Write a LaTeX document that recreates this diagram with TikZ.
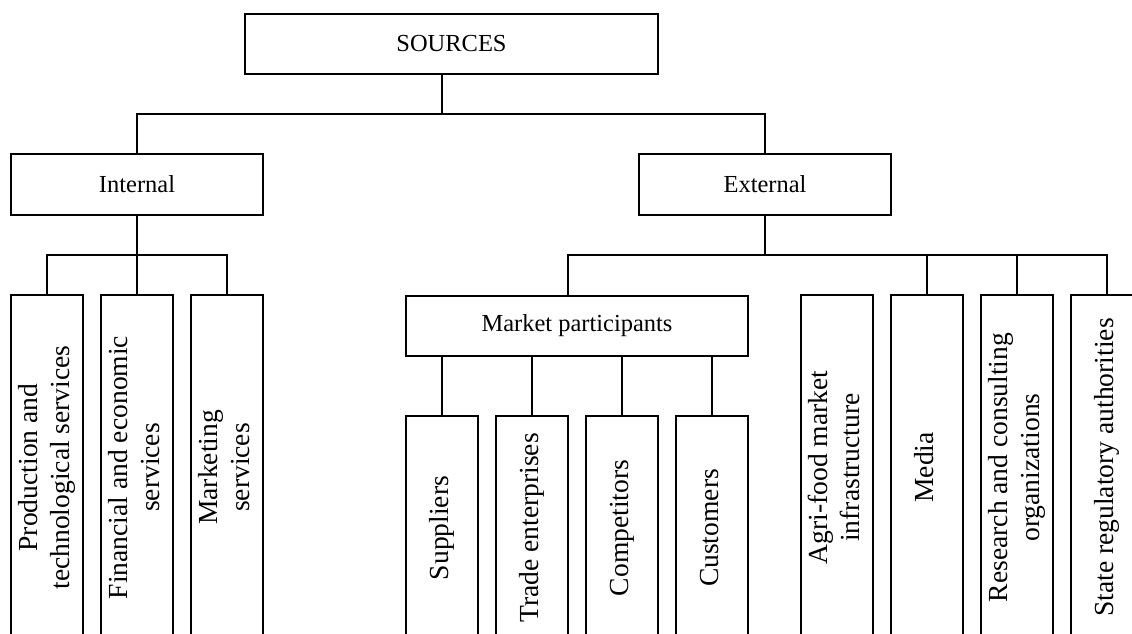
\documentclass[tikz,border=0pt]{standalone}
\usepackage{fontspec}
\setmainfont{Liberation Serif}
\usepackage{graphicx}
\usepackage{tikz}
\usetikzlibrary{positioning,calc}
\newcommand{\uplabel}[1]{\rotatebox{90}{\begin{tabular}{@{}c@{}}#1\end{tabular}}}
\tikzset{
  linkline/.style={line width=1.2pt,black},
  headbox/.style={draw,line width=1.2pt,inner sep=2pt,font=\fontsize{17.4}{21}\selectfont},
  groupbox/.style={headbox,minimum width=6.3cm,minimum height=1.525cm},
  leafbox/.style={draw,line width=1.2pt,inner sep=0pt,minimum width=1.8cm,minimum height=8.625cm,font=\fontsize{19.6}{22.5}\selectfont},
  partbox/.style={leafbox,minimum height=5.6cm}
}

\begin{document}
\begin{tikzpicture}[x=0.025cm,y=-0.025cm]
  \useasboundingbox (0,0) rectangle (1132,633);
  \clip (0,0) rectangle (1132,633);
  \node[headbox,minimum width=10.325cm,minimum height=1.5cm] (src) at (451.5,44) {SOURCES};
  \node[groupbox] (int) at (137,184.5) {Internal};
  \node[groupbox] (ext) at (765,184.5) {External};
  \node[leafbox] (prod) at (47,467.5) {\uplabel{Production and\\technological services}};
  \node[leafbox] (fin) at (137,467.5) {\uplabel{Financial and economic\\services}};
  \node[leafbox] (mkt) at (227,467.5) {\uplabel{Marketing\\services}};
  \node[headbox,minimum width=8.55cm,minimum height=1.5cm] (mp) at (577,326) {Market participants};
  \node[partbox] (sup) at (442,528) {\uplabel{Suppliers}};
  \node[partbox] (trade) at (532,528) {\uplabel{Trade enterprises}};
  \node[partbox] (comp) at (622,528) {\uplabel{Competitors}};
  \node[partbox] (cust) at (712,528) {\uplabel{Customers}};
  \node[leafbox] (agri) at (837,467.5) {\uplabel{Agri-food market\\infrastructure}};
  \node[leafbox] (media) at (927,467.5) {\uplabel{Media}};
  \node[leafbox] (res) at (1017,467.5) {\uplabel{Research and consulting\\organizations}};
  \node[leafbox] (state) at (1107,467.5) {\uplabel{State regulatory authorities}};
  \coordinate (srcjoin) at (442,114);
  \coordinate (intjoin) at (137,255);
  \coordinate (extjoin) at (568,255);
  \draw[linkline] (srcjoin |- src.south) -- (srcjoin);
  \draw[linkline] (int.north) |- (srcjoin) -| (ext.north);
  \draw[linkline] (int.south) -- (fin.north);
  \draw[linkline] (prod.north) |- (intjoin) -| (mkt.north);
  \draw[linkline] (ext.south) -- (ext.south |- extjoin);
  \draw[linkline] (mp.north -| extjoin) -- (extjoin) -| (state.north);
  \foreach \n in {media,res}
    \draw[linkline] (\n.north) -- (\n.north |- extjoin);
  \foreach \n in {sup,trade,comp,cust}
    \draw[linkline] (\n.north) -- (\n.north |- mp.south);
\end{tikzpicture}
\end{document}
